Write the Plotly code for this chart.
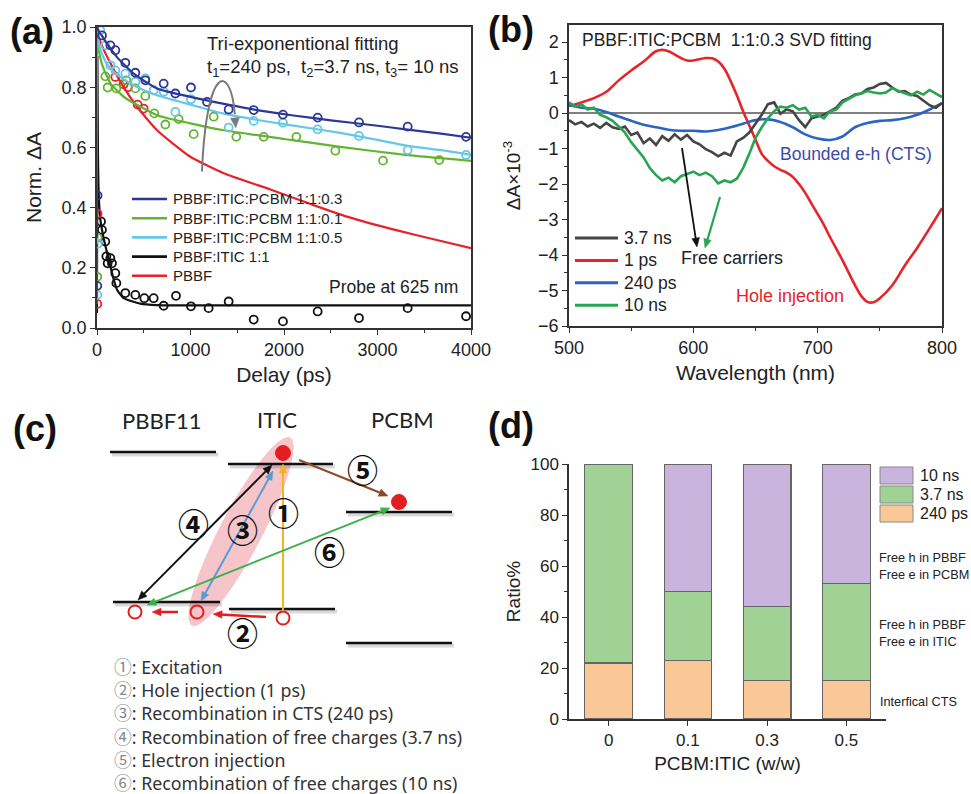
import numpy as np
import plotly.graph_objects as go

W, H = 971, 794
def PX(x): return x / W
def PY(y): return 1 - y / H

FONT = "Liberation Sans, Arial, sans-serif"
DIAG = "Lato, Noto Sans, sans-serif"
LIST = "Noto Sans, Noto Sans CJK SC, sans-serif"
CJK = "Noto Sans CJK SC, sans-serif"

# ---------------- Panel (a) data: normalized kinetics at 625 nm ----------------
a_names = ["PBBF:ITIC:PCBM 1:1:0.3", "PBBF:ITIC:PCBM 1:1:0.1", "PBBF:ITIC:PCBM 1:1:0.5",
           "PBBF:ITIC 1:1", "PBBF"]
a_colors = ["#2d3796", "#64b432", "#64c8e6", "#111111", "#e8222a"]

fit_03_x = [0, 2, 20, 50, 107, 214, 392, 642, 998, 1400, 1711, 2100, 2500, 3000, 3300, 3700, 4000]
fit_03_y = [0.30, 1.00, 0.985, 0.972, 0.945, 0.90, 0.845, 0.796, 0.768, 0.742, 0.724, 0.706, 0.69, 0.672, 0.66, 0.645, 0.632]
pts_03_x = [3, 6, 53, 143, 196, 303, 410, 517, 713, 838, 1005, 1177, 1408, 1676, 1989, 2360, 2802, 3323, 3947]
pts_03_y = [0.14, 0.44, 0.972, 0.939, 0.923, 0.881, 0.848, 0.823, 0.812, 0.779, 0.799, 0.751, 0.726, 0.724, 0.709, 0.699, 0.683, 0.669, 0.635]

fit_01_x = [0, 2, 20, 60, 150, 300, 642, 1000, 1355, 2000, 2602, 3300, 4000]
fit_01_y = [0.30, 0.96, 0.92, 0.87, 0.81, 0.765, 0.707, 0.68, 0.657, 0.628, 0.602, 0.575, 0.555]
pts_01_x = [3, 6, 89, 114, 207, 314, 410, 517, 613, 731, 873, 1034, 1248, 1490, 1783, 2132, 2549, 3059, 3661]
pts_01_y = [0.17, 0.30, 0.836, 0.799, 0.796, 0.823, 0.796, 0.771, 0.713, 0.676, 0.694, 0.644, 0.702, 0.635, 0.635, 0.635, 0.589, 0.556, 0.558]

fit_05_x = [0, 2, 30, 100, 200, 400, 642, 1000, 1355, 1700, 2068, 2602, 3000, 3323, 3700, 4000]
fit_05_y = [0.28, 0.98, 0.93, 0.88, 0.845, 0.805, 0.773, 0.742, 0.712, 0.692, 0.674, 0.648, 0.625, 0.605, 0.59, 0.575]
pts_05_x = [3, 8, 36, 89, 143, 196, 303, 410, 517, 606, 713, 838, 1005, 1408, 1676, 1989, 2360, 2802, 3323, 3947]
pts_05_y = [0.11, 0.28, 0.989, 0.939, 0.873, 0.856, 0.845, 0.818, 0.829, 0.79, 0.785, 0.718, 0.76, 0.666, 0.688, 0.682, 0.66, 0.638, 0.591, 0.575]

fit_11_x = [0, 4, 10, 20, 36, 70, 100, 143, 180, 214, 285, 463, 642, 1000, 4000]
fit_11_y = [0.05, 0.90, 0.58, 0.43, 0.36, 0.30, 0.26, 0.204, 0.16, 0.127, 0.099, 0.081, 0.076, 0.075, 0.075]
pts_11_x = [43, 53, 89, 100, 114, 143, 160, 196, 207, 303, 410, 506, 606, 713, 845, 1005, 1194, 1408, 1676, 1989, 2360, 2802, 3323, 3947]
pts_11_y = [0.354, 0.326, 0.287, 0.238, 0.215, 0.232, 0.215, 0.182, 0.149, 0.116, 0.110, 0.099, 0.099, 0.074, 0.107, 0.072, 0.066, 0.088, 0.028, 0.022, 0.055, 0.033, 0.066, 0.039]

fit_pb_x = [0, 3, 36, 143, 285, 428, 642, 998, 1355, 1854, 2300, 2674, 3200, 3600, 4000]
fit_pb_y = [0.08, 0.98, 0.95, 0.88, 0.80, 0.735, 0.657, 0.569, 0.514, 0.46, 0.41, 0.37, 0.325, 0.295, 0.265]
pts_pb_x = [3, 6, 196, 285, 330, 435, 499]
pts_pb_y = [0.08, 0.38, 0.834, 0.81, 0.80, 0.742, 0.729]

# ---------------- Panel (b) data: SVD spectra ----------------
b_names = ["3.7 ns", "1 ps", "240 ps", "10 ns"]
b_colors = ["#454545", "#e8242a", "#2d64c0", "#28a550"]

b_wl5 = list(range(500, 801, 5))
b_37ns = [-0.20, -0.32, -0.25, -0.38, -0.30, -0.42, -0.28, -0.40, -0.45, -0.38,
          -0.62, -0.55, -0.85, -0.72, -0.90, -0.65, -0.78, -0.60, -0.75, -0.62,
          -0.80, -0.88, -1.02, -1.10, -1.22, -1.12, -1.20, -0.80, -0.70, -0.55,
          -0.30, -0.05, 0.25, 0.30, -0.02, 0.10, 0.05, -0.20, -0.40, -0.15,
          -0.10, -0.05, 0.05, 0.15, 0.35, 0.42, 0.52, 0.55, 0.68, 0.72,
          0.82, 0.85, 0.72, 0.60, 0.62, 0.52, 0.48, 0.35, 0.22, 0.15, 0.28]
b_10ns = [0.30, 0.18, 0.25, 0.10, 0.15, -0.05, -0.12, -0.22, -0.38, -0.55,
          -0.82, -1.05, -1.25, -1.55, -1.75, -1.90, -1.82, -1.95, -1.78, -1.72,
          -1.65, -1.75, -1.68, -1.78, -1.98, -1.90, -1.95, -1.85, -1.55, -1.15,
          -0.70, -0.40, -0.15, 0.05, 0.18, 0.15, 0.22, 0.10, 0.15, -0.10,
          -0.05, -0.15, 0.05, 0.10, 0.30, 0.40, 0.50, 0.55, 0.62, 0.58,
          0.55, 0.58, 0.70, 0.62, 0.55, 0.50, 0.60, 0.52, 0.65, 0.55, 0.45]
b_1ps_x = [500, 510, 520, 530, 540, 550, 560, 570, 575, 580, 590, 595, 600, 610, 615, 620, 625, 630,
           635, 640, 645, 650, 655, 660, 665, 670, 675, 680, 685, 690, 695, 700, 705, 710, 720, 730,
           735, 740, 745, 750, 760, 770, 780, 790, 800]
b_1ps_y = [0.20, 0.30, 0.42, 0.60, 0.92, 1.20, 1.45, 1.74, 1.78, 1.74, 1.55, 1.48, 1.48, 1.55, 1.54, 1.45, 1.25, 0.90,
           0.50, 0.05, -0.35, -0.75, -1.15, -1.35, -1.50, -1.60, -1.68, -1.80, -2.00, -2.25, -2.55, -2.85, -3.15, -3.50, -4.15, -4.85,
           -5.15, -5.32, -5.33, -5.22, -4.85, -4.30, -3.80, -3.25, -2.68]
b_wl10 = list(range(500, 801, 10))
b_240ps = [0.22, 0.15, 0.12, 0.03, -0.10, -0.22, -0.33, -0.40, -0.47, -0.50, -0.50, -0.52, -0.48, -0.40, -0.30, -0.20,
           -0.18, -0.25, -0.40, -0.60, -0.72, -0.76, -0.66, -0.40, -0.28, -0.22, -0.20, -0.15, -0.05, 0.10, 0.28]

# ---------------- Panel (d) data: component ratios ----------------
d_cats = ["0", "0.1", "0.3", "0.5"]
d_240ps = [22, 23, 15, 15]
d_37ns = [78, 27, 29, 38]
d_10ns = [0, 50, 56, 47]
d_names = ["10 ns", "3.7 ns", "240 ps"]
d_colors = ["#c8b4dc", "#a0d296", "#fac896"]

# panel (a) axis geometry (pixels) used to place the curved guide arrow
A_X0, A_X1, A_Y0, A_Y1 = 97, 471, 328, 27

fig = go.Figure()

# ---- (a) traces
a_series = [
    (3, fit_11_x, fit_11_y, pts_11_x, pts_11_y),
    (4, fit_pb_x, fit_pb_y, pts_pb_x, pts_pb_y),
    (1, fit_01_x, fit_01_y, pts_01_x, pts_01_y),
    (2, fit_05_x, fit_05_y, pts_05_x, pts_05_y),
    (0, fit_03_x, fit_03_y, pts_03_x, pts_03_y),
]
for i, fx, fy, sx, sy in a_series:
    c = a_colors[i]
    fig.add_trace(go.Scatter(x=sx, y=sy, mode="markers", xaxis="x", yaxis="y",
                             marker=dict(symbol="circle-open", size=8, color=c, line=dict(width=1.8, color=c)),
                             name=a_names[i] + " data", showlegend=False))
    fig.add_trace(go.Scatter(x=fx, y=fy, mode="lines", xaxis="x", yaxis="y",
                             line=dict(color=c, width=2.2, shape="spline", smoothing=0.5),
                             name=a_names[i], showlegend=False))

# ---- (b) traces
b_data = [(1, b_1ps_x, b_1ps_y, "spline"), (2, b_wl10, b_240ps, "spline"),
          (0, b_wl5, b_37ns, "linear"), (3, b_wl5, b_10ns, "linear")]
for i, x, y, shp in b_data:
    fig.add_trace(go.Scatter(x=x, y=y, mode="lines", xaxis="x2", yaxis="y2",
                             line=dict(color=b_colors[i], width=2.6, shape=shp),
                             name=b_names[i], showlegend=False))

# ---- (d) traces
for vals, name, col in [(d_240ps, d_names[2], d_colors[2]), (d_37ns, d_names[1], d_colors[1]),
                        (d_10ns, d_names[0], d_colors[0])]:
    fig.add_trace(go.Bar(x=d_cats, y=vals, name=name, xaxis="x3", yaxis="y3", width=0.6,
                         marker=dict(color=col, line=dict(color="#666666", width=1.2)),
                         showlegend=False))

ax_common = dict(showline=True, linecolor="#333", linewidth=1.5, ticks="outside", ticklen=5,
                 tickwidth=1.3, tickcolor="#333", showgrid=False, zeroline=False,
                 tickfont=dict(family=FONT, size=18, color="#222"), automargin=False)
title_font = dict(family=FONT, size=21, color="#222")

fig.update_layout(
    width=W, height=H, autosize=False, margin=dict(l=0, r=0, t=0, b=0),
    paper_bgcolor="white", plot_bgcolor="white", showlegend=False, barmode="stack",
    font=dict(family=FONT, color="#222"),
    xaxis=dict(domain=[PX(A_X0), PX(A_X1)], range=[0, 4000], tick0=0, dtick=1000, anchor="y", mirror=True,
               minor=dict(dtick=500, ticks="outside", ticklen=3, tickcolor="#333"),
               title=dict(text="Delay (ps)", font=title_font, standoff=8), **ax_common),
    yaxis=dict(domain=[PY(A_Y0), PY(A_Y1)], range=[0, 1.0], tick0=0, dtick=0.2, tickformat=".1f", anchor="x",
               mirror=True, minor=dict(dtick=0.1, ticks="outside", ticklen=3, tickcolor="#333"),
               title=dict(text="Norm. ΔA", font=title_font, standoff=14), **ax_common),
    xaxis2=dict(domain=[PX(569), PX(942)], range=[500, 800], tick0=500, dtick=100, anchor="y2", mirror=True,
                minor=dict(dtick=50, ticks="outside", ticklen=3, tickcolor="#333"),
                title=dict(text="Wavelength (nm)", font=title_font, standoff=8), **ax_common),
    yaxis2=dict(domain=[PY(326), PY(25)], range=[-6, 2.48], tick0=0, dtick=1, anchor="x2", mirror=True,
                minor=dict(dtick=0.5, ticks="outside", ticklen=3, tickcolor="#333"),
                title=dict(text="ΔA×10<sup>-3</sup>", font=dict(family=FONT, size=19, color="#222"), standoff=12),
                **ax_common),
    xaxis3=dict(domain=[PX(569), PX(886)], type="category", range=[-0.5, 3.5], anchor="y3",
                title=dict(text="PCBM:ITIC (w/w)", font=dict(family=FONT, size=19, color="#222"), standoff=8),
                **{**ax_common, "tickfont": dict(family=FONT, size=17, color="#222")}),
    yaxis3=dict(domain=[PY(719), PY(464)], range=[0, 100], tick0=0, dtick=20, anchor="x3",
                minor=dict(dtick=10, ticks="outside", ticklen=3, tickcolor="#333"),
                title=dict(text="Ratio%", font=dict(family=FONT, size=19, color="#222"), standoff=5),
                **{**ax_common, "tickfont": dict(family=FONT, size=17, color="#222")}),
)

shapes = []
ann = []

def text(x, y, s, size, color="#222", family=FONT, xanchor="center", yanchor="middle", bold=False):
    ann.append(dict(x=PX(x), y=PY(y), xref="paper", yref="paper", text=("<b>%s</b>" % s) if bold else s,
                    showarrow=False, xanchor=xanchor, yanchor=yanchor, align="left",
                    font=dict(family=family, size=size, color=color)))

def pline(x0, y0, x1, y1, color, width):
    shapes.append(dict(type="line", xref="paper", yref="paper", x0=PX(x0), y0=PY(y0), x1=PX(x1), y1=PY(y1),
                       line=dict(color=color, width=width)))

def head(hx, hy, dx, dy, color, hl, hw):
    bx, by = hx - dx * hl, hy - dy * hl
    px_, py_ = -dy * hw, dx * hw
    pts = [(hx, hy), (bx + px_, by + py_), (bx - px_, by - py_)]
    path = "M " + " L ".join("%.5f,%.5f" % (PX(a), PY(b)) for a, b in pts) + " Z"
    shapes.append(dict(type="path", xref="paper", yref="paper", path=path, fillcolor=color,
                       line=dict(color=color, width=0.5)))

def arrow(hx, hy, tx, ty, color, width=2.0, both=False, hl=9, hw=3.8):
    L = np.hypot(hx - tx, hy - ty)
    dx, dy = (hx - tx) / L, (hy - ty) / L
    sx, sy = (tx + dx * hl * 0.8, ty + dy * hl * 0.8) if both else (tx, ty)
    pline(sx, sy, hx - dx * hl * 0.8, hy - dy * hl * 0.8, color, width)
    head(hx, hy, dx, dy, color, hl, hw)
    if both:
        head(tx, ty, -dx, -dy, color, hl, hw)

# panel labels
text(32, 31, "(a)", 36, "#111", bold=True)
text(511, 29, "(b)", 36, "#111", bold=True)
text(35, 428, "(c)", 36, "#111", bold=True)
text(511, 425, "(d)", 36, "#111", bold=True)

# ---- (a) annotations
text(205, 43, "Tri-exponentional fitting", 18.5, xanchor="left")
text(205, 68, "t<sub>1</sub>=240 ps,\u00a0 t<sub>2</sub>=3.7 ns, t<sub>3</sub>= 10 ns", 18.5, xanchor="left")
text(460, 287, "Probe at 625 nm", 17.5, xanchor="right")
shapes.append(dict(type="path", xref="x", yref="y", path="M 1123,0.52 C 1170,0.88 1430,0.88 1474,0.71",
                   line=dict(color="#7a7a7a", width=2)))
def a_px(x, y):
    return A_X0 + x / 4000 * (A_X1 - A_X0), A_Y0 - y * (A_Y0 - A_Y1)
tip = a_px(1484, 0.665)
base = a_px(1470, 0.72)
L = np.hypot(tip[0] - base[0], tip[1] - base[1])
head(tip[0], tip[1], (tip[0] - base[0]) / L, (tip[1] - base[1]) / L, "#7a7a7a", 10, 4.5)

# legend (a)
for k, i in enumerate([0, 1, 2, 3, 4]):
    yy = 199 + k * 19.2
    pline(132, yy, 167, yy, a_colors[i], 2.6)
    text(171, yy, a_names[i], 15, xanchor="left")

# ---- (b) annotations
shapes.append(dict(type="line", xref="x2", yref="y2", x0=500, x1=800, y0=0, y1=0,
                   line=dict(color="#555", width=1.4), layer="below"))
text(580, 40, "PBBF:ITIC:PCBM\u00a0 1:1:0.3 SVD fitting", 17.5, xanchor="left")
text(732, 258, "Free carriers", 18)
text(856, 154, "Bounded e-h (CTS)", 17.5, color="#3b4ba8")
text(790, 296, "Hole injection", 18, color="#e8222a")
arrow(697, 247, 682, 148, "#111", width=1.8)
arrow(705, 248, 720, 197, "#28a550", width=2.2)
for k in range(4):
    yy = 238 + k * 22.4
    pline(575, yy, 618, yy, b_colors[k], 3)
    text(622, yy, b_names[k], 17.5, xanchor="left")

# ---- (c) energy diagram (pixel geometry of the scheme)
c_species = ["PBBF11", "ITIC", "PCBM"]
c_label_pos = [(162, 420), (277, 419), (402, 419)]
c_levels = [(110, 216, 452), (228, 333, 464), (346, 452, 512),
            (113, 220, 602), (229, 335, 609), (346, 452, 643)]
for s, (x, y) in zip(c_species, c_label_pos):
    text(x, y, s, 22, "#222", family=DIAG)
cx, cy, ea, eb = 241, 531.5, 106, 21
u = np.array([98, -187]) / np.hypot(98, 187)
v = np.array([-u[1], u[0]])
t = np.linspace(0, 2 * np.pi, 73)
ex = cx + ea * np.cos(t) * u[0] + eb * np.sin(t) * v[0]
ey = cy + ea * np.cos(t) * u[1] + eb * np.sin(t) * v[1]
path = "M " + " L ".join("%.5f,%.5f" % (PX(a), PY(b)) for a, b in zip(ex, ey)) + " Z"
shapes.append(dict(type="path", xref="paper", yref="paper", path=path,
                   fillcolor="rgba(236,150,158,0.55)", line=dict(width=0)))
for x0, x1, y in c_levels:
    pline(x0 + 2, y + 2.5, x1 + 2, y + 2.5, "rgba(0,0,0,0.15)", 4)
    pline(x0, y, x1, y, "#111", 2.5)
for (x, y) in [(283, 453), (399, 502)]:
    r = 7.5
    shapes.append(dict(type="circle", xref="paper", yref="paper", x0=PX(x - r), x1=PX(x + r),
                       y0=PY(y + r), y1=PY(y - r), fillcolor="#e41e1e", line=dict(color="#e41e1e", width=1)))
for (x, y) in [(135, 612), (197, 612), (283, 618)]:
    r = 6.5
    shapes.append(dict(type="circle", xref="paper", yref="paper", x0=PX(x - r), x1=PX(x + r),
                       y0=PY(y + r), y1=PY(y - r), fillcolor="rgba(0,0,0,0)", line=dict(color="#e41e1e", width=2)))
arrow(283, 464, 283, 611, "#f4b41a", width=2)                     # 1 excitation
arrow(152, 612, 178, 612, "#e41e1e", width=2.5)                   # 2 hole injection
arrow(213, 614, 266, 617, "#e41e1e", width=2.5)
arrow(201, 601, 273, 471, "#5b9bd5", width=2, both=True)          # 3 CTS recombination
arrow(138, 600, 272, 465, "#111", width=2, both=True)             # 4 free-charge recombination
arrow(388, 496, 299, 460, "#8b4a2b", width=2)                     # 5 electron injection
arrow(147, 605, 390, 508, "#3cb04a", width=2, both=True)          # 6 free-charge recombination
c_marks = ["①", "②", "③", "④", "⑤", "⑥"]
c_mark_pos = [(283, 511), (242, 631), (243, 528), (193, 522), (362, 469), (329, 550)]
for m, (x, y) in zip(c_marks, c_mark_pos):
    text(x, y, m, 31, "#111", family=CJK, bold=True)
c_steps = ["Excitation", "Hole injection (1 ps)", "Recombination in CTS (240 ps)",
           "Recombination of free charges (3.7 ns)", "Electron injection",
           "Recombination of free charges (10 ns)"]
for k, s in enumerate(c_steps):
    yy = 667 + k * 23.2
    text(112, yy, "<span style='color:#888'>%s</span>: %s" % (c_marks[k], s), 17.8, "#333",
         family=LIST, xanchor="left")

# ---- (d) annotations and legend boxes
for k in range(3):
    y0 = 467 + k * 19
    shapes.append(dict(type="rect", xref="paper", yref="paper", x0=PX(880), x1=PX(913),
                       y0=PY(y0 + 17), y1=PY(y0), fillcolor=d_colors[k], line=dict(color="#888", width=1)))
    text(918, y0 + 8.5, d_names[k], 16, xanchor="left")
text(877, 566, "Free h in PBBF<br>Free e in PCBM", 12.7, xanchor="left")
text(877, 633, "Free h in PBBF<br>Free e in ITIC", 12.7, xanchor="left")
text(878, 702, "Interfical CTS", 12.7, xanchor="left")

fig.update_layout(shapes=shapes, annotations=ann)
fig.write_html("out.html")
